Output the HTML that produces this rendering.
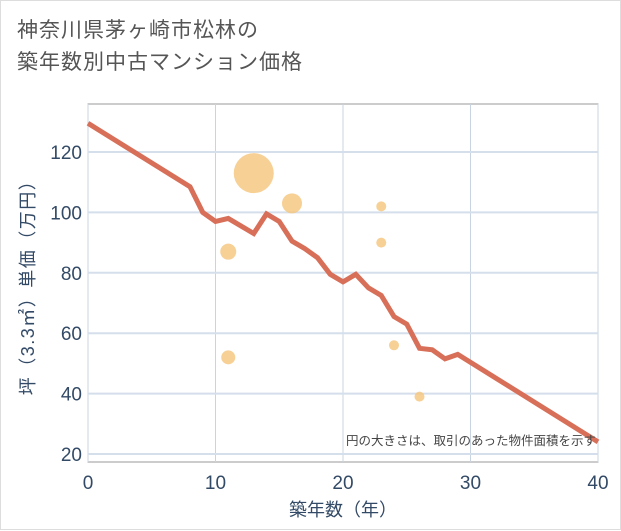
<!DOCTYPE html>
<html><head><meta charset="utf-8">
<style>
body{margin:0;background:#fff;}
#wrap{position:relative;width:619px;height:528px;border:1px solid #ddd;background:#fff;font-family:"Liberation Sans","Noto Sans CJK JP",sans-serif;}
#title{position:absolute;left:16px;top:14px;font-size:21px;line-height:32px;color:#555;letter-spacing:1px;}
svg{position:absolute;left:0;top:0;}
</style></head>
<body>
<div id="wrap">
<div id="title">神奈川県茅ヶ崎市松林の<br>築年数別中古マンション価格</div>
<svg id="chart" width="621" height="530"></svg>
</div>
<script>
const xTicks=[0,10,20,30,40];
const yTicks=[20,40,60,80,100,120];
const lineAges=[0,8,9,10,11,13,14,15,16,17,18,19,20,21,22,23,24,25,26,27,28,29,40];
const linePrices=[129.5,108.5,100,97,98,93,99.5,97,90.5,88,85,79.5,77,79.5,75,72.5,65.5,63,55,54.5,51.5,53,24];
const bubbleAges=[11,11,13,16,23,23,24,26];
const bubblePrices=[87,52,113,103,102,90,56,39];
const bubbleSizes=[8,7,20,10,5,5,5,5];
const X0=87,X1=597,YT=103,YB=461;
const sx=v=>X0+(v-0)/(40-0)*(X1-X0);
const sy=v=>453-(v-20)/100*(453-151);
const NS="http://www.w3.org/2000/svg";
const svg=document.getElementById('chart');
function mk(t,a){const e=document.createElementNS(NS,t);for(const k in a)e.setAttribute(k,a[k]);svg.appendChild(e);return e;}
let bg=mk('rect',{x:X0,y:YT,width:X1-X0,height:YB-YT,fill:'#fff',stroke:'#999','stroke-width':1});


xTicks.forEach(t=>{
 const l=mk('line',{x1:sx(t),x2:sx(t),y1:YT,y2:YB,stroke:'#c8d4e2','stroke-width':1});
 
 
 const tx=mk('text',{x:sx(t),y:488,'text-anchor':'middle','font-size':19,fill:'#334a66'});
 tx.textContent=t;
 
 
});
yTicks.forEach(t=>{
 const l=mk('line',{x1:X0,x2:X1,y1:sy(t),y2:sy(t),stroke:'#d5dfeb','stroke-width':2});
 
 
 const tx=mk('text',{x:81,y:sy(t)+7,'text-anchor':'end','font-size':19,fill:'#334a66'});
 tx.textContent=t;
 
 
});
bubbleAges.forEach((a,i)=>{
 const c=mk('circle',{cx:sx(a),cy:sy(bubblePrices[i]),r:bubbleSizes[i],fill:'#f5c47a','fill-opacity':0.8});
 
 
});
const pts=lineAges.map((a,i)=>sx(a)+','+sy(linePrices[i])).join(' ');
const pl=mk('polyline',{points:pts,fill:'none',stroke:'#d86f58','stroke-width':5,'stroke-linejoin':'miter'});


const note=mk('text',{x:595,y:444,'text-anchor':'end','font-size':12.5,fill:'#444'});
note.textContent='円の大きさは、取引のあった物件面積を示す';


const xt=mk('text',{x:342,y:515,'text-anchor':'middle','font-size':18,fill:'#334a66'});
xt.textContent='築年数（年）';


const yt=mk('text',{x:0,y:0,'text-anchor':'middle','font-size':18,'letter-spacing':1.5,fill:'#334a66',transform:'translate(33,282) rotate(-90)'});
yt.textContent='坪（3.3㎡）単価（万円）';


</script>
</body></html>
